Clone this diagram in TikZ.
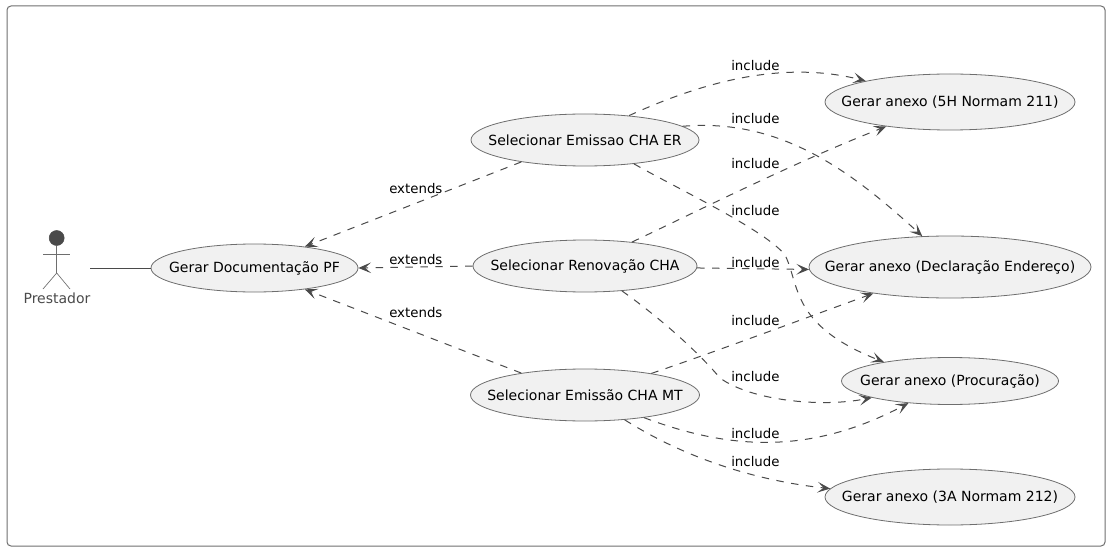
\documentclass[tikz,border=0pt]{standalone}
\usepackage{fontspec}
\setmainfont{DejaVu Sans}
\usetikzlibrary{shapes.geometric,arrows.meta}
\definecolor{linec}{HTML}{4A4A4A}
\definecolor{fillc}{HTML}{F1F1F1}
\definecolor{edgec}{HTML}{6E6E6E}
\newcommand{\uctext}[1]{\makebox[0pt]{#1}}
\tikzset{
  usecase/.style={ellipse,draw=edgec,fill=fillc,line width=0.6pt,inner sep=0pt,text=black,font=\fontsize{10.5pt}{12pt}\selectfont},
  rel/.style={draw=linec,line width=0.75pt,dash pattern=on 5.6pt off 5.6pt,-{Stealth[length=9.5pt,width=8pt,inset=4.5pt,fill=linec]}},
  lab/.style={font=\fontsize{10pt}{12pt}\selectfont,text=black,inner sep=0pt,anchor=west},
  limb/.style={draw=edgec,line width=0.5pt}
}
\begin{document}
\begin{tikzpicture}[x=0.75pt,y=-0.75pt]
\useasboundingbox (0,0) rectangle (1112,552);
\node[draw=edgec,line width=0.75pt,rounded corners=3pt,minimum width=1098*0.75pt,minimum height=540*0.75pt,inner sep=0pt] (frame) at (556,276) {};
\node[usecase,minimum width=207*0.75pt,minimum height=48*0.75pt] (pf) at (254.5,268) {\uctext{Gerar Documentação PF}};
\node[usecase,minimum width=228*0.75pt,minimum height=52*0.75pt] (er) at (585,140) {\uctext{Selecionar Emissao CHA ER}};
\node[usecase,minimum width=224*0.75pt,minimum height=52*0.75pt] (ren) at (585,266) {\uctext{Selecionar Renovação CHA}};
\node[usecase,minimum width=229*0.75pt,minimum height=52*0.75pt] (mt) at (585,395) {\uctext{Selecionar Emissão CHA MT}};
\node[usecase,minimum width=250*0.75pt,minimum height=56*0.75pt] (a5) at (950,102) {\uctext{Gerar anexo (5H Normam 211)}};
\node[usecase,minimum width=282*0.75pt,minimum height=62*0.75pt] (dec) at (950,267) {\uctext{Gerar anexo (Declaração Endereço)}};
\node[usecase,minimum width=217*0.75pt,minimum height=47*0.75pt] (pro) at (950,381) {\uctext{Gerar anexo (Procuração)}};
\node[usecase,minimum width=250*0.75pt,minimum height=56*0.75pt] (a3) at (950,497) {\uctext{Gerar anexo (3A Normam 212)}};
% actor
\node[circle,fill=linec,draw=linec,line width=0.4pt,minimum size=15*0.75pt,inner sep=0pt] (head) at (56.7,238) {};
\coordinate (hip) at (56.7,273);
\coordinate (armL) at (43,254);
\coordinate (armR) at (70,254);
\coordinate (legL) at (43,289);
\coordinate (legR) at (70,289);
\draw[limb] (head.south) -- (hip);
\draw[limb] (armL) -- (armR);
\draw[limb] (legL) -- (hip) -- (legR);
\node[font=\fontsize{10.5pt}{12pt}\selectfont,text=linec,inner sep=0pt] (actor) at (57,298) {Prestador};
\coordinate (actorEnd) at (90,268);
\draw[draw=linec,line width=0.75pt] (actorEnd) -- (pf.west);
% extends
\draw[rel] (er.199) -- (pf.23);
\draw[rel] (ren.west) -- (pf.east);
\draw[rel] (mt.161) -- (pf.-23);
\node[lab] (l1) at (389,189) {extends};
\node[lab] (l2) at (389,260) {extends};
\node[lab] (l3) at (389,313) {extends};
% includes
\draw[rel] (er.29) .. controls (690,88) and (775,58) .. (a5.166.5);
\draw[rel] (er.8.4) .. controls (780,118) and (850,170) .. (dec.132);
\draw[rel] (er.-26) .. controls (680,190) and (765,230) .. (785,255) .. controls (800,285) and (790,325) .. (pro.164.5);
\draw[rel] (ren.27) .. controls (710,205) and (800,160) .. (a5.201);
\draw[rel] (ren.-1) -- (dec.181);
\draw[rel] (ren.-34) .. controls (670,325) and (705,360) .. (720,378) .. controls (750,400) and (820,408) .. (pro.192);
\draw[rel] (mt.18.7) .. controls (720,350) and (800,320) .. (dec.199);
\draw[rel] (mt.-21) .. controls (730,450) and (810,455) .. (pro.208);
\draw[rel] (mt.-32) .. controls (680,455) and (750,480) .. (a3.176);
\node[lab] (i1) at (731,65.5) {include};
\node[lab] (i2) at (731,118.5) {include};
\node[lab] (i3) at (731,163.5) {include};
\node[lab] (i4) at (731,210.5) {include};
\node[lab] (i5) at (731,262.5) {include};
\node[lab] (i6) at (731,320.5) {include};
\node[lab] (i7) at (731,376.5) {include};
\node[lab] (i8) at (731,433.5) {include};
\node[lab] (i9) at (731,461.5) {include};
\end{tikzpicture}
\end{document}
